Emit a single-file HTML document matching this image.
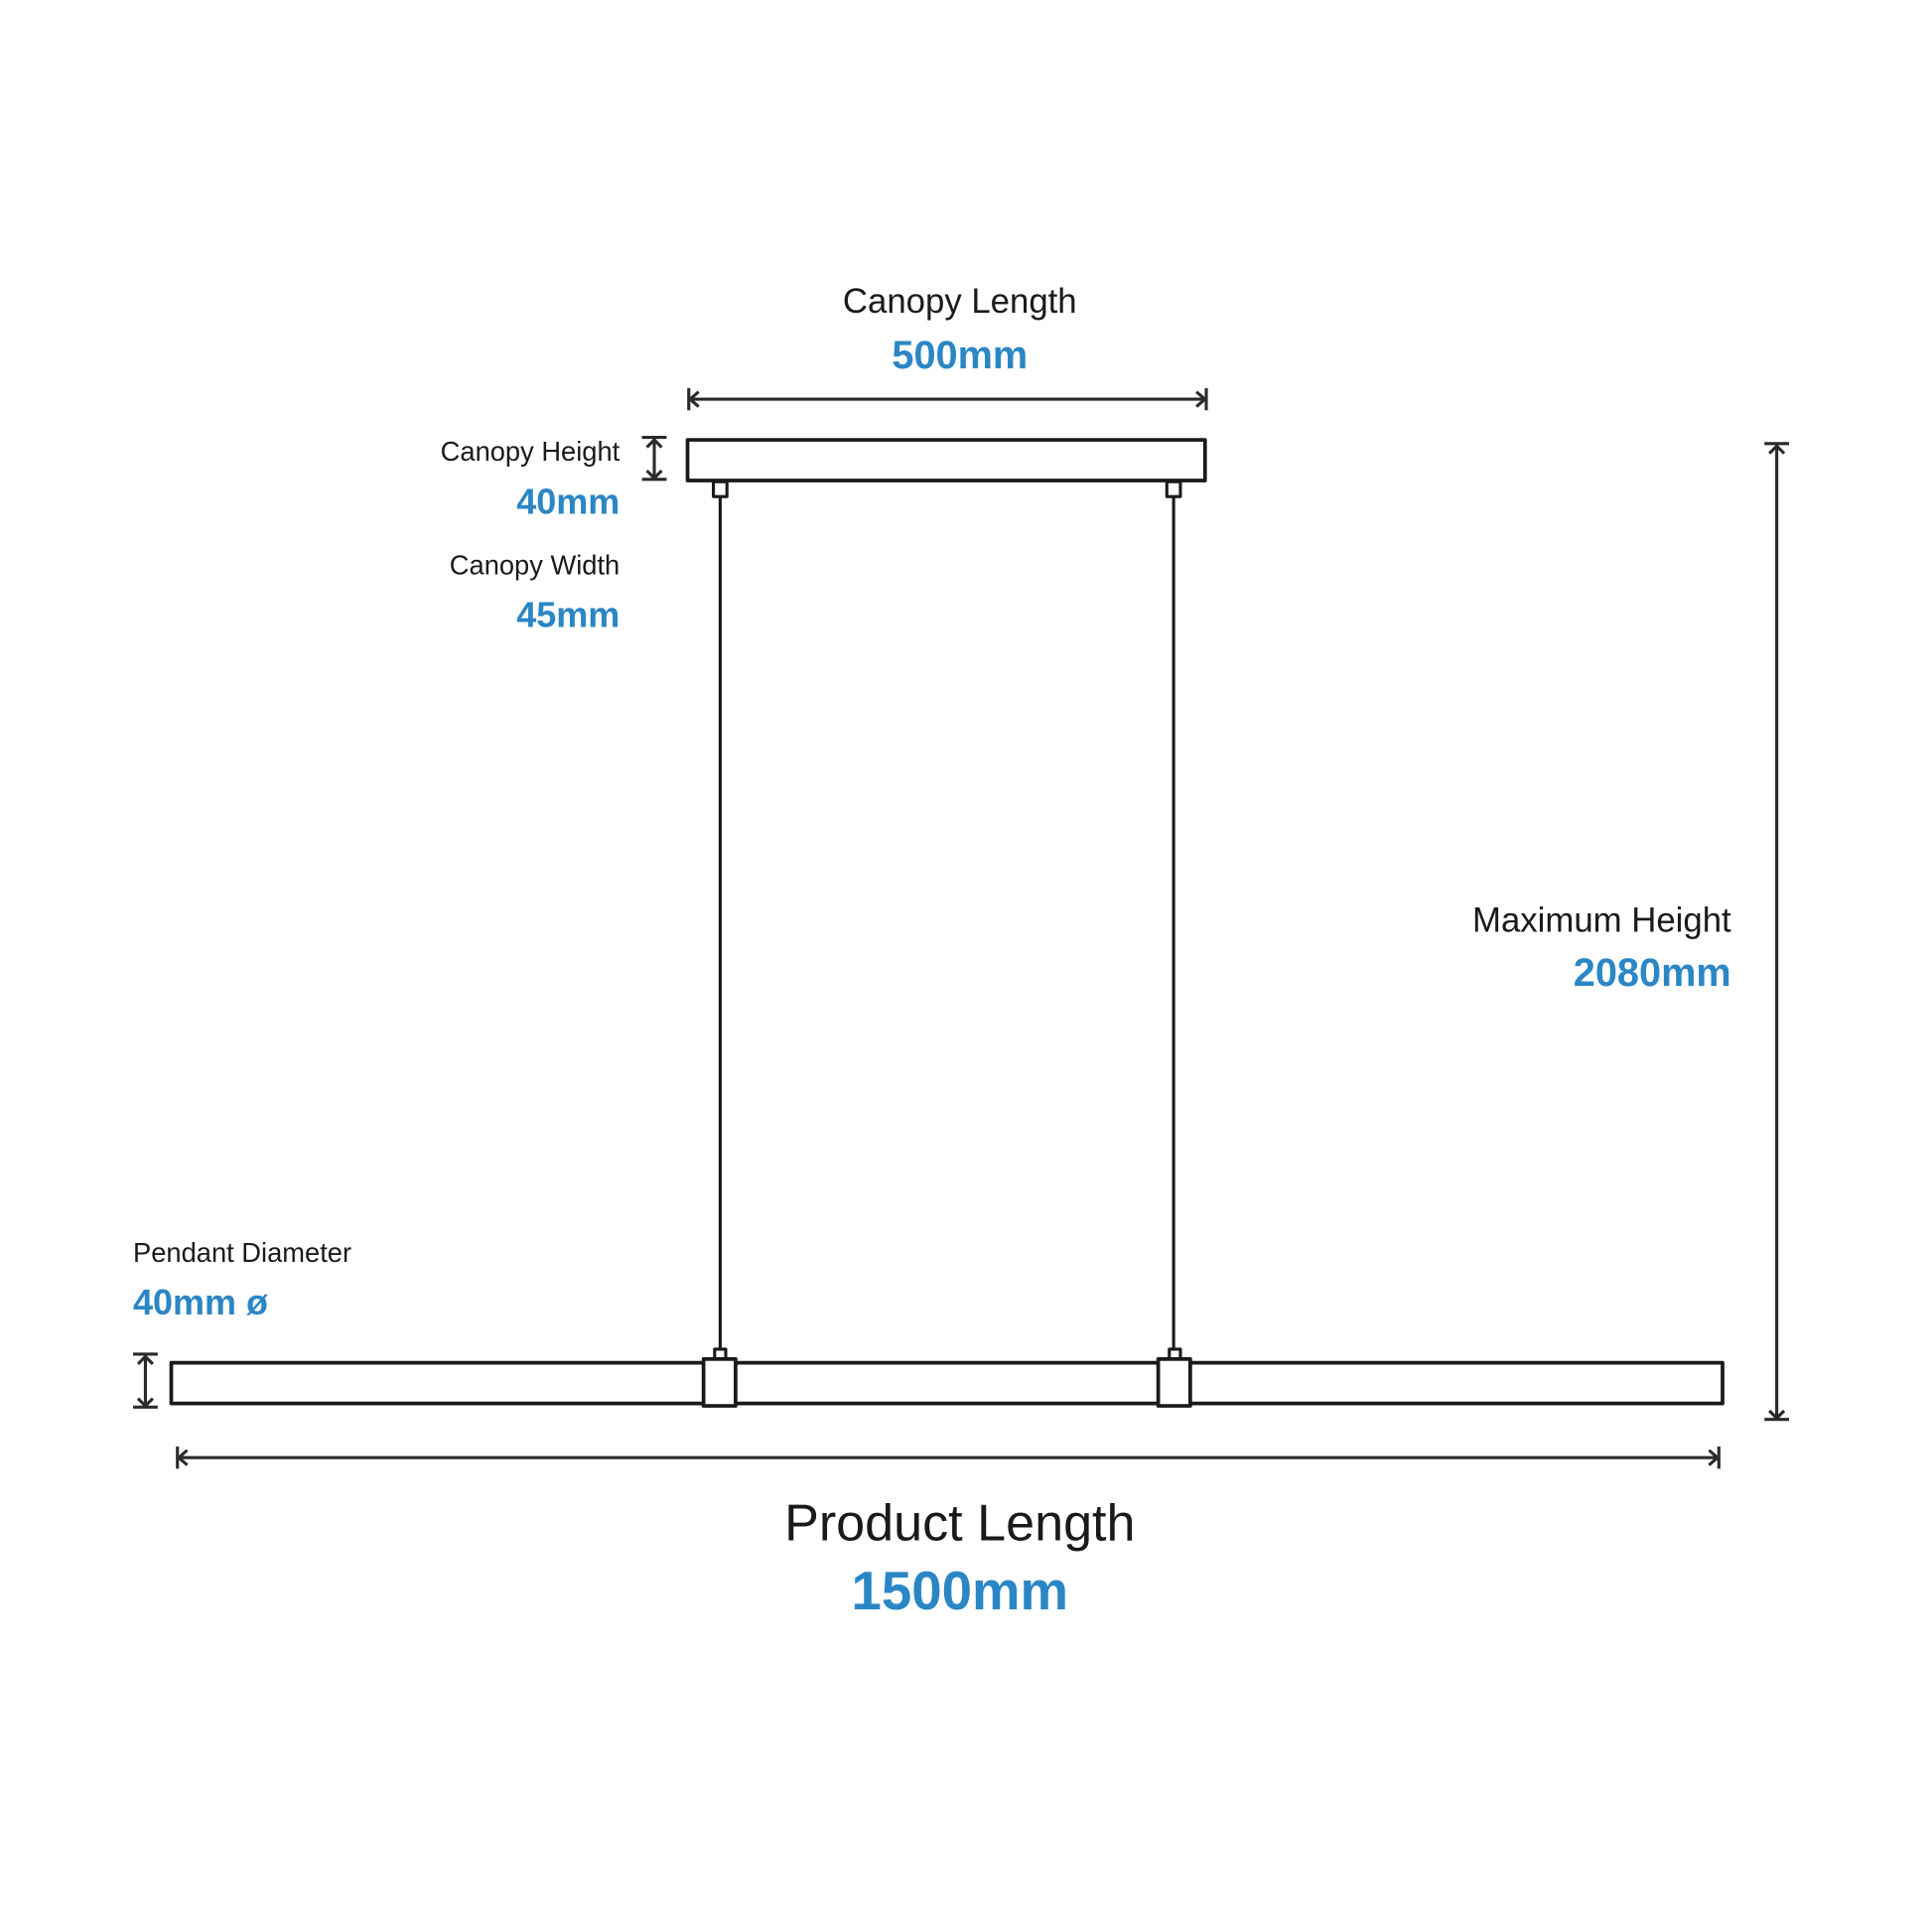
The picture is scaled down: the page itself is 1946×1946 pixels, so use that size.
<!DOCTYPE html>
<html><head><meta charset="utf-8"><style>
html,body{margin:0;padding:0;background:#fff}
svg{display:block}
text{font-family:"Liberation Sans",sans-serif}
.k{fill:#1a1a1a}
.b{fill:#2b86c5;font-weight:bold}
</style></head><body>
<svg width="1946" height="1946" viewBox="0 0 1568 1568" xmlns="http://www.w3.org/2000/svg">
<g fill="none" stroke="#1a1a1a" stroke-width="3" stroke-linejoin="round">
<rect x="558" y="357" width="420" height="33"/>
<rect x="579" y="391" width="11" height="12" stroke-width="2.5"/>
<rect x="947" y="391" width="11" height="12" stroke-width="2.5"/>
<line x1="584.5" y1="403" x2="584.5" y2="1095" stroke-width="2.5"/>
<line x1="952.5" y1="403" x2="952.5" y2="1095" stroke-width="2.5"/>
<rect x="139" y="1106" width="1259" height="33"/>
<rect x="571" y="1103" width="26" height="38" fill="#fff"/>
<rect x="940" y="1103" width="26" height="38" fill="#fff"/>
<rect x="580" y="1095" width="9" height="8" stroke-width="2.5"/>
<rect x="949" y="1095" width="9" height="8" stroke-width="2.5"/>
</g>
<g fill="none" stroke="#2a2a2a" stroke-width="2.5">
<line x1="559" y1="324" x2="979" y2="324"/>
<line x1="559" y1="315" x2="559" y2="333"/><line x1="979" y1="315" x2="979" y2="333"/>
<polyline points="567,318 560,324 567,330"/><polyline points="971,318 978,324 971,330"/>
<line x1="531" y1="356" x2="531" y2="389"/>
<line x1="521" y1="355" x2="541" y2="355"/><line x1="521" y1="389" x2="541" y2="389"/>
<polyline points="525,363 531,357 537,363"/><polyline points="525,382 531,388 537,382"/>
<line x1="1442" y1="361" x2="1442" y2="1152"/>
<line x1="1432" y1="360" x2="1452" y2="360"/><line x1="1432" y1="1152" x2="1452" y2="1152"/>
<polyline points="1436,368 1442,362 1448,368"/><polyline points="1436,1145 1442,1151 1448,1145"/>
<line x1="118" y1="1100" x2="118" y2="1142"/>
<line x1="108" y1="1099" x2="128" y2="1099"/><line x1="108" y1="1142" x2="128" y2="1142"/>
<polyline points="112,1107 118,1101 124,1107"/><polyline points="112,1135 118,1141 124,1135"/>
<line x1="144" y1="1183" x2="1395" y2="1183"/>
<line x1="144" y1="1174" x2="144" y2="1192"/><line x1="1395" y1="1174" x2="1395" y2="1192"/>
<polyline points="152,1177 145,1183 152,1189"/><polyline points="1387,1177 1394,1183 1387,1189"/>
</g>
<text class="k" x="779" y="254" font-size="28" text-anchor="middle">Canopy Length</text>
<text class="b" x="779" y="299" font-size="32" text-anchor="middle">500mm</text>
<text class="k" x="503" y="374" font-size="22" text-anchor="end">Canopy Height</text>
<text class="b" x="503" y="417" font-size="29" text-anchor="end">40mm</text>
<text class="k" x="503" y="466" font-size="22" text-anchor="end">Canopy Width</text>
<text class="b" x="503" y="509" font-size="29" text-anchor="end">45mm</text>
<text class="k" x="1405" y="756" font-size="28" text-anchor="end">Maximum Height</text>
<text class="b" x="1405" y="800" font-size="32" text-anchor="end">2080mm</text>
<text class="k" x="108" y="1024" font-size="22">Pendant Diameter</text>
<text class="b" x="108" y="1067" font-size="29">40mm ø</text>
<text class="k" x="779" y="1250" font-size="42" text-anchor="middle">Product Length</text>
<text class="b" x="779" y="1306" font-size="44" text-anchor="middle">1500mm</text>
</svg>
</body></html>
